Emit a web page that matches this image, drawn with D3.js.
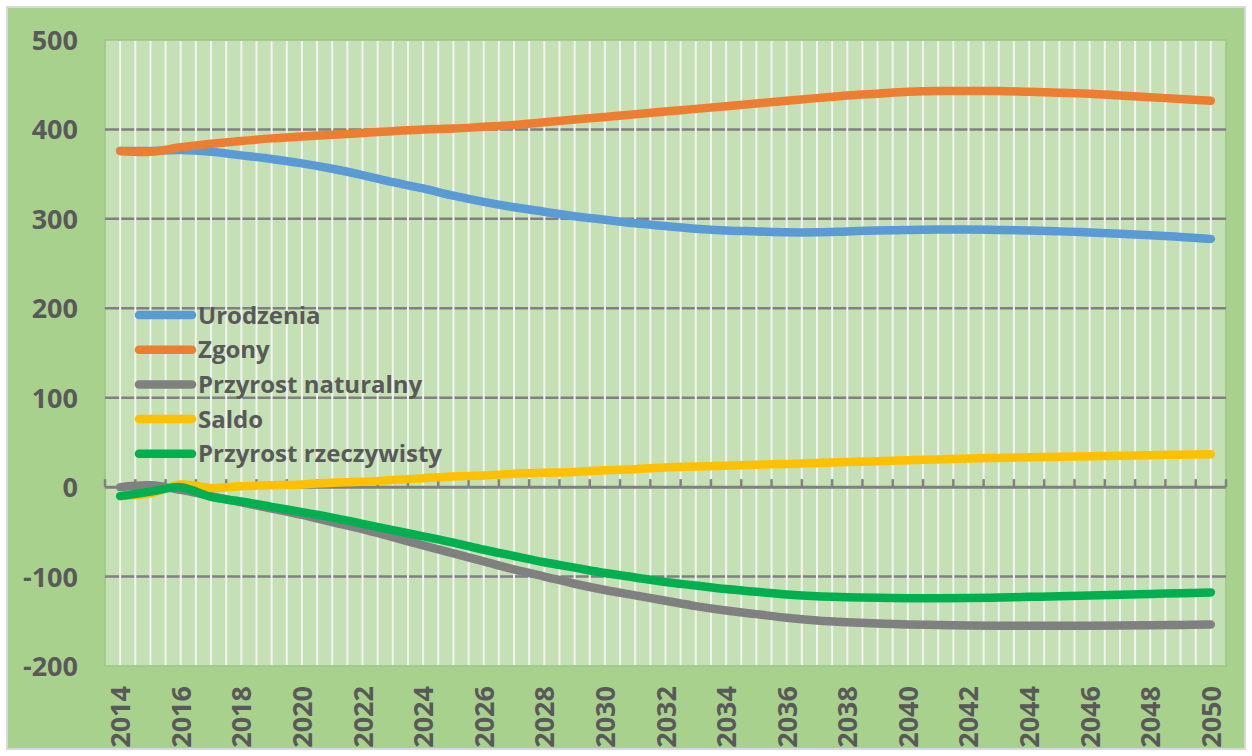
<!DOCTYPE html>
<html>
<head>
<meta charset="utf-8">
<script src="https://cdn.jsdelivr.net/npm/d3@7"></script>
<style>
    body { margin: 0; background: #ffffff; }
    svg text { font-family: "Open Sans", "Liberation Sans", sans-serif; font-weight: 700; fill: #595959; }
</style>
</head>
<body>
<div id="chart"></div>
<script>
// values (thousands)
var years = d3.range(2014, 2051);

var urodzenia = [376, 376, 377, 375, 371, 367, 362, 356, 349, 341, 334, 326, 319, 313, 308, 303, 299, 295, 292, 289,
    287, 286, 285, 285, 286, 287, 287.5, 288, 288, 287.5, 287, 286, 284.8, 283.4, 281.8, 279.8, 277.6];

var zgony = [376, 375, 380, 384, 387, 390, 392, 394, 396, 398, 400, 401, 403, 405, 408, 411, 414, 417, 420, 423,
    426, 429, 432, 435, 438, 440, 442, 443, 443, 443, 442, 441, 440, 438, 436, 434, 432];

var przyrost_naturalny = [0, 2, -3, -10, -17, -24, -31, -39, -47, -56, -65, -74, -83, -92, -100, -108, -115, -121, -127, -133,
    -138, -142, -146, -149, -151, -152.5, -153.5, -154.2, -154.7, -155, -155, -155, -155, -154.8, -154.5, -154.1, -153.7];

var saldo = [-10, -7, 3, -1, 1, 2, 3, 5, 6, 8, 10, 12, 13, 15, 16, 17, 19, 20, 22, 23,
    24, 25, 26, 27, 28, 29, 30, 31, 32, 32.7, 33.4, 34, 34.6, 35.2, 35.8, 36.3, 36.8];

var przyrost_rzeczywisty = [-10, -5, 0, -11, -16, -22, -28, -34, -41, -48, -55, -62, -70, -77, -84, -90, -96, -101, -106, -110,
    -114, -117, -120, -122, -123, -123.8, -124.2, -124.2, -124, -123.4, -122.7, -122, -121.2, -120.4, -119.5, -118.6, -117.7];

var series_names = ["Urodzenia", "Zgony", "Przyrost naturalny", "Saldo", "Przyrost rzeczywisty"];
var y_ticks = [-200, -100, 0, 100, 200, 300, 400, 500];
var x_tick_labels = years.filter(function(y) { return y % 2 === 0; });

var colors = ["#5b9bd5", "#ed7d31", "#808080", "#ffc000", "#00b050"];

var demography_chart = function demography_chart(properties) {
    "use strict";

    var svg = {};
    var x = null;
    var y = null;
    var series = [];

    var init = function init(properties) {
        svg = d3.select(properties.div)
            .append("svg")
            .attr("width", properties.width)
            .attr("height", properties.height);

        x = d3.scaleLinear().domain([2013.5, 2050.5]).range([105, 1226]);
        y = d3.scaleLinear().domain([-200, 500]).range([666, 40]);

        var values = [urodzenia, zgony, przyrost_naturalny, saldo, przyrost_rzeczywisty];
        series = series_names.map(function(name, i) {
            return {
                name: name,
                color: colors[i],
                points: years.map(function(yr, j) { return { year: yr, value: values[i][j] }; })
            };
        });
    };

    var draw_background = function draw_background() {
        svg.append("rect")
            .attr("x", 7).attr("y", 7)
            .attr("width", 1238).attr("height", 742)
            .attr("fill", "#a9d18e")
            .attr("stroke", "#d9d9d9")
            .attr("stroke-width", 2);

        svg.append("rect")
            .attr("x", x(2013.5)).attr("y", y(500))
            .attr("width", x(2050.5) - x(2013.5))
            .attr("height", y(-200) - y(500))
            .attr("fill", "#c5e0b4")
            .attr("stroke", "#9cc685")
            .attr("stroke-width", 1.5);
    };

    var draw_grid = function draw_grid() {
        svg.append("g")
            .selectAll("line")
            .data(y_ticks.filter(function(t) { return t !== 0 && t !== 500 && t !== -200; }))
            .enter()
            .append("line")
            .attr("x1", x(2013.5)).attr("x2", x(2050.5))
            .attr("y1", function(d) { return y(d); })
            .attr("y2", function(d) { return y(d); })
            .attr("stroke", "#808080")
            .attr("stroke-width", 2.5);

        // white minor lines, one per half year
        var half_years = d3.range(2014, 2050.25, 0.5);
        svg.append("g")
            .selectAll("line")
            .data(half_years)
            .enter()
            .append("line")
            .attr("x1", function(d) { return x(d); })
            .attr("x2", function(d) { return x(d); })
            .attr("y1", y(500) + 1).attr("y2", y(-200) - 1)
            .attr("stroke", "#f2f2f2")
            .attr("stroke-width", 2);
    };

    var draw_axes = function draw_axes() {
        var bounds = d3.range(2013.5, 2051, 1);
        var zero = svg.append("g");

        zero.selectAll("line.tick")
            .data(bounds)
            .enter()
            .append("line")
            .attr("class", "tick")
            .attr("x1", function(d) { return x(d); })
            .attr("x2", function(d) { return x(d); })
            .attr("y1", y(0)).attr("y2", y(0) - 8)
            .attr("stroke", "#808080")
            .attr("stroke-width", 2.5);

        zero.append("line")
            .attr("x1", x(2013.5)).attr("x2", x(2050.5))
            .attr("y1", y(0)).attr("y2", y(0))
            .attr("stroke", "#808080")
            .attr("stroke-width", 3);

        svg.append("g")
            .selectAll("text")
            .data(y_ticks)
            .enter()
            .append("text")
            .attr("x", 78)
            .attr("y", function(d) { return y(d) + 10; })
            .attr("text-anchor", "end")
            .style("font-size", "27px")
            .text(function(d) { return d; });

        svg.append("g")
            .selectAll("text")
            .data(x_tick_labels)
            .enter()
            .append("text")
            .attr("transform", function(d) { return "translate(" + (x(d) + 10) + ",686) rotate(-90)"; })
            .attr("text-anchor", "end")
            .style("font-size", "27px")
            .text(function(d) { return d; });
    };

    var draw_lines = function draw_lines() {
        var line = d3.line()
            .x(function(d) { return x(d.year); })
            .y(function(d) { return y(d.value); })
            .curve(d3.curveCatmullRom);

        svg.append("g")
            .selectAll("path")
            .data(series)
            .enter()
            .append("path")
            .attr("d", function(d) { return line(d.points); })
            .attr("fill", "none")
            .attr("stroke", function(d) { return d.color; })
            .attr("stroke-width", 8.5)
            .attr("stroke-linecap", "round")
            .attr("stroke-linejoin", "round");
    };

    var draw_legend = function draw_legend() {
        var legend = svg.append("g");
        var length = series.length;

        for (var i = 0; i < length; i++) {
            var cy = 315 + i * 34.7;

            legend.append("line")
                .attr("x1", 139).attr("x2", 192)
                .attr("y1", cy).attr("y2", cy)
                .attr("stroke", series[i].color)
                .attr("stroke-width", 8.5)
                .attr("stroke-linecap", "round");

            legend.append("text")
                .attr("x", 198)
                .attr("y", cy + 8.5)
                .style("font-size", "24px")
                .text(series[i].name);
        }
    };

    init(properties);
    draw_background();
    draw_grid();
    draw_axes();
    draw_lines();
    draw_legend();

    return {
        svg: svg
    };
};

demography_chart({ div: "#chart", width: 1252, height: 756 });
</script>
</body>
</html>
